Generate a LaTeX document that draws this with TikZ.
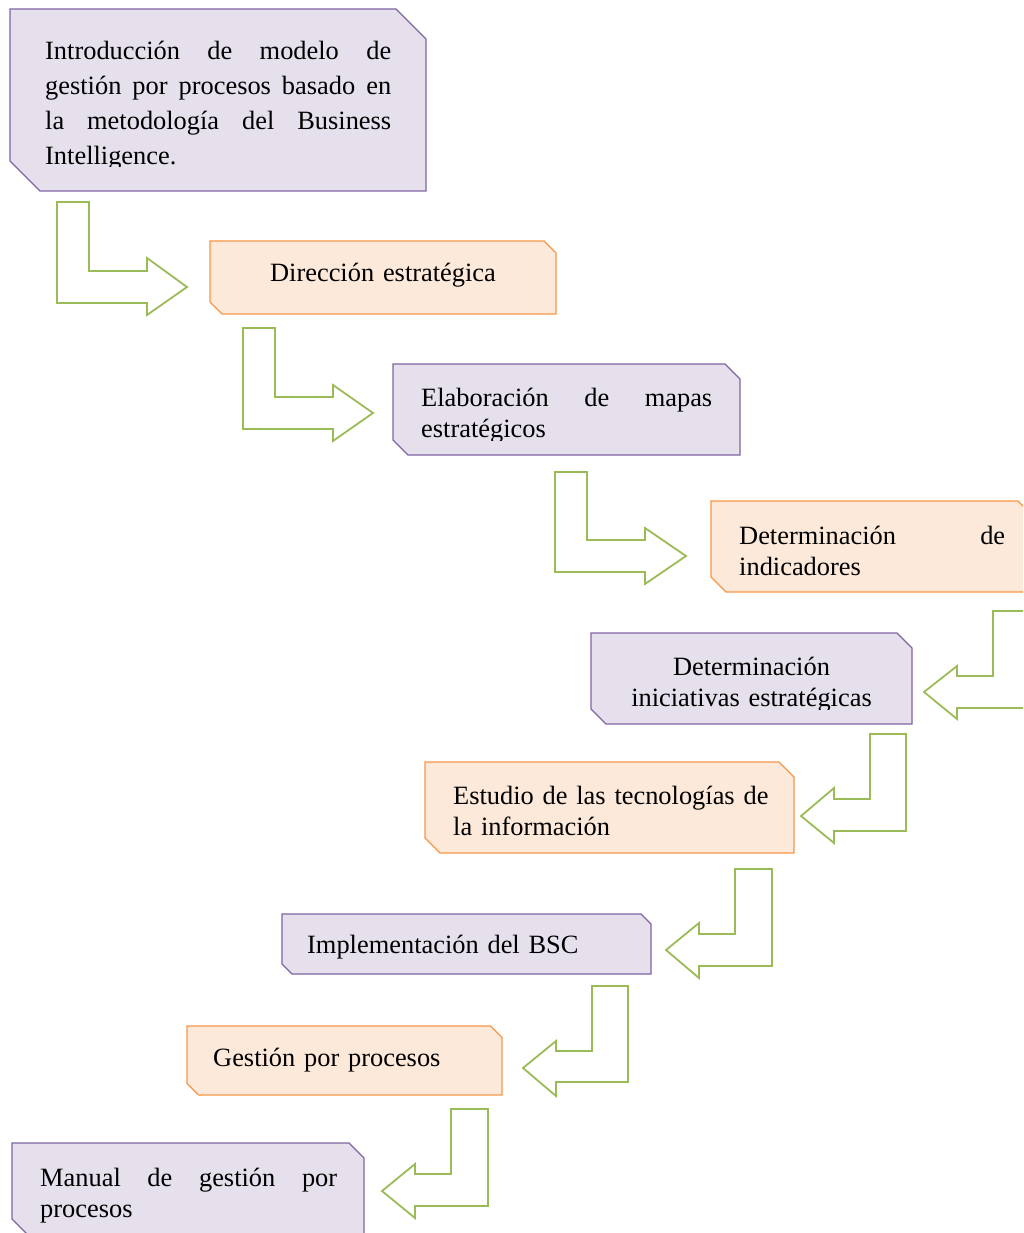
\documentclass[tikz,border=0pt]{standalone}
\usepackage{fontspec}
\setmainfont{Liberation Serif}
\definecolor{purfill}{HTML}{E5E0EC}
\definecolor{purline}{HTML}{8064A2}
\definecolor{orfill}{HTML}{FDE9D9}
\definecolor{orline}{HTML}{F79646}
\definecolor{grline}{HTML}{9BBB59}
\newcommand\jline[2]{\leavevmode\hbox to #1{#2}}
\tikzset{
  purbox/.style={draw=purline, fill=purfill, line width=1.1pt, line join=miter},
  orbox/.style={draw=orline, fill=orfill, line width=1.1pt, line join=miter},
  barrow/.style={draw=grline, fill=white, line width=1.8pt, line join=miter},
  txt/.style={inner sep=0pt, anchor=base west, align=left, font=\fontsize{26.4}{31}\selectfont},
  txtwide/.style={inner sep=0pt, anchor=base west, align=left, font=\fontsize{26.4}{35}\selectfont},
}
\begin{document}
\begin{tikzpicture}[x=1pt,y=-1pt]
\useasboundingbox (0,0) rectangle (1023,1233);
\clip (0,0) rectangle (1023,1233);
\fill[white] (0,0) rectangle (1023,1233);

% ---- boxes (snip diagonal corners) ----
\draw[purbox] (10,9) -- (396,9) -- (426,39) -- (426,191) -- (40,191) -- (10,161) -- cycle;
\draw[orbox]  (210,241) -- (544,241) -- (556,253) -- (556,314) -- (222,314) -- (210,302) -- cycle;
\draw[purbox] (393,364) -- (725,364) -- (740,379) -- (740,455) -- (408,455) -- (393,440) -- cycle;
\draw[orbox]  (711,501) -- (1018,501) -- (1033,516) -- (1033,592) -- (726,592) -- (711,577) -- cycle;
\draw[purbox] (591,633) -- (897,633) -- (912,648) -- (912,724) -- (606,724) -- (591,709) -- cycle;
\draw[orbox]  (425,762) -- (779,762) -- (794,777) -- (794,853) -- (440,853) -- (425,838) -- cycle;
\draw[purbox] (282,914) -- (641,914) -- (651,924) -- (651,974) -- (292,974) -- (282,964) -- cycle;
\draw[orbox]  (187,1026) -- (490.5,1026) -- (502,1037.5) -- (502,1095) -- (198.5,1095) -- (187,1083.5) -- cycle;
\draw[purbox] (12,1143) -- (349,1143) -- (364,1158) -- (364,1234) -- (27,1234) -- (12,1219) -- cycle;

% ---- texts ----
\begin{scope}
  \clip (10,9) rectangle (426,167);
  \node[txtwide, text width=346pt] (t1) at (45,59.5)
    {\jline{346pt}{Introducción\hfill de\hfill modelo\hfill de}\\
     \jline{346pt}{gestión\hfill por\hfill procesos\hfill basado\hfill en}\\
     \jline{346pt}{la\hfill metodología\hfill del\hfill Business}\\
     Intelligence.};
\end{scope}
\node[txt, anchor=base, align=center, text width=330pt] (t2) at (383,281) {Dirección estratégica};
\begin{scope}
  \clip (393,364) rectangle (740,440);
  \node[txt, text width=291pt] (t3) at (421,406)
    {\jline{291pt}{Elaboración\hfill de\hfill mapas}\\ estratégicos};
\end{scope}
\node[txt, text width=266pt] (t4) at (739,544)
    {\jline{266pt}{Determinación\hfill de}\\ indicadores};
\begin{scope}
  \clip (591,633) rectangle (912,709);
  \node[txt, anchor=base, align=center, text width=300pt] (t5) at (751.5,675)
    {Determinación\\ iniciativas estratégicas};
\end{scope}
\node[txt, text width=320pt] (t6) at (453,804)
    {Estudio de las tecnologías de\\ la información};
\node[txt, text width=330pt] (t7) at (307,953) {Implementación del BSC};
\node[txt, text width=280pt] (t8) at (213,1066) {Gestión por procesos};
\node[txt, text width=297pt] (t9) at (40,1186)
    {\jline{297pt}{Manual\hfill de\hfill gestión\hfill por}\\ procesos};

% ---- bent arrows, pointing right ----
\draw[barrow] (57,202) -- (89,202) -- (89,271) -- (147,271) -- (147,258) -- (187,287) -- (147,315) -- (147,303) -- (57,303) -- cycle;
\draw[barrow] (243,328) -- (275,328) -- (275,397) -- (333,397) -- (333,385) -- (373,413) -- (333,441) -- (333,429) -- (243,429) -- cycle;
\draw[barrow] (555,472) -- (587,472) -- (587,540) -- (645,540) -- (645,528) -- (686,556) -- (645,584) -- (645,572) -- (555,572) -- cycle;

% ---- bent arrows, pointing left ----
\draw[barrow] (1025,611) -- (993,611) -- (993,676) -- (957,676) -- (957,666) -- (924,692) -- (957,719) -- (957,708) -- (1025,708) -- cycle;
\draw[barrow] (906,734) -- (870,734) -- (870,799) -- (834,799) -- (834,788) -- (801,816) -- (834,843) -- (834,831) -- (906,831) -- cycle;
\draw[barrow] (772,869) -- (735,869) -- (735,934) -- (699,934) -- (699,923) -- (666,950) -- (699,978) -- (699,966) -- (772,966) -- cycle;
\draw[barrow] (628,986) -- (592,986) -- (592,1051) -- (556,1051) -- (556,1041) -- (523,1068) -- (556,1096) -- (556,1082) -- (628,1082) -- cycle;
\draw[barrow] (488,1109) -- (451,1109) -- (451,1174) -- (415,1174) -- (415,1164) -- (382,1191) -- (415,1218) -- (415,1206) -- (488,1206) -- cycle;
\end{tikzpicture}
\end{document}
